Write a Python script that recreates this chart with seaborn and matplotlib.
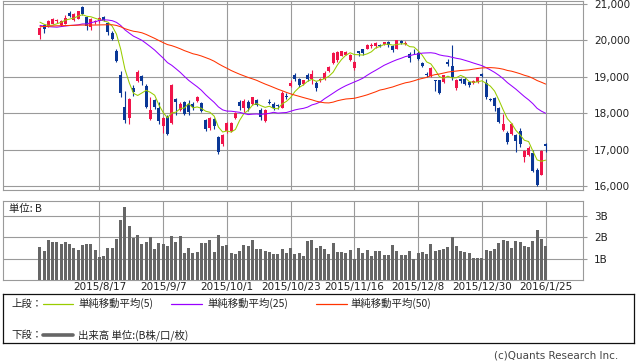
import numpy as np
import pandas as pd
import matplotlib
matplotlib.use("Agg")
import matplotlib.pyplot as plt
import seaborn as sns
from matplotlib.lines import Line2D

# ---------------- data ----------------
dates = (
    ["2015/7/28", "2015/7/29", "2015/7/30", "2015/7/31"]
    + ["2015/8/" + d for d in ["3", "4", "5", "6", "7", "10", "11", "12", "13", "14", "17", "18", "19", "20", "21", "24", "25", "26", "27", "28", "31"]]
    + ["2015/9/" + d for d in ["1", "2", "3", "4", "7", "8", "9", "10", "11", "14", "15", "16", "17", "18", "24", "25", "28", "29", "30"]]
    + ["2015/10/" + d for d in ["1", "2", "5", "6", "7", "8", "9", "13", "14", "15", "16", "19", "20", "21", "22", "23", "26", "27", "28", "29", "30"]]
    + ["2015/11/" + d for d in ["2", "4", "5", "6", "9", "10", "11", "12", "13", "16", "17", "18", "19", "20", "24", "25", "26", "27", "30"]]
    + ["2015/12/" + d for d in ["1", "2", "3", "4", "7", "8", "9", "10", "11", "14", "15", "16", "17", "18", "21", "22", "24", "25", "28", "29", "30"]]
    + ["2016/1/" + d for d in ["4", "5", "6", "7", "8", "12", "13", "14", "15", "18", "19", "20", "21", "22", "25"]]
)

opens = [20150, 20430, 20390, 20460, 20520, 20430, 20460, 20750, 20570, 20600,
         20920, 20650, 20370, 20500, 20530, 20640, 20470, 20200, 19720, 19050,
         18160, 17880, 18680, 18890, 19010, 18760, 17840, 18350, 18150, 17640,
         17900, 17730, 18390, 18080, 18320, 18240, 18260, 18330, 18280, 17800,
         17590, 17850, 17350, 17150, 17510, 17500, 17880, 18300, 18130, 18300,
         18240, 18350, 18100, 17780, 18320, 18250, 18230, 18150, 18480, 18740,
         19040, 18950, 18790, 19040, 18930, 18830, 18900, 18940, 19150, 19370,
         19450, 19580, 19610, 19460, 19230, 19700, 19750, 19770, 19850, 19840,
         19860, 19890, 19950, 19850, 19770, 19980, 19900, 19630, 19720, 19660,
         19380, 19090, 19010, 18900, 18900, 18850, 19410, 19310, 18680, 18940,
         18950, 18850, 18840, 18850, 19080, 18820, 18400, 18410, 18150, 17530,
         17450, 17420, 17390, 17500, 16800, 16850, 16900, 16450, 16310, 17145]
highs = [20360, 20450, 20550, 20610, 20600, 20560, 20700, 20800, 20760, 20820,
         20947, 20670, 20620, 20570, 20650, 20660, 20480, 20260, 19750, 19150,
         18600, 18430, 18780, 19190, 19050, 18790, 18450, 18390, 18300, 17900,
         17950, 18790, 18430, 18300, 18340, 18350, 18310, 18480, 18300, 17850,
         17900, 17880, 17370, 17420, 17750, 17760, 18040, 18350, 18390, 18360,
         18450, 18400, 18140, 18110, 18400, 18300, 18260, 18600, 18560, 18900,
         19100, 18960, 18920, 19100, 19200, 18880, 18960, 19150, 19300, 19680,
         19700, 19720, 19710, 19620, 19430, 19720, 19770, 19900, 19920, 19950,
         19900, 19960, 19970, 19860, 20020, 20000, 19980, 19680, 19760, 19700,
         19400, 19120, 19260, 18920, 18920, 19060, 19500, 19869, 18950, 18960,
         18990, 18870, 18900, 19000, 19110, 18950, 18420, 18450, 18170, 17975,
         17500, 17730, 17420, 17590, 17000, 17100, 17000, 16500, 16980, 17190]
lows = [20030, 20190, 20370, 20440, 20480, 20400, 20440, 20630, 20530, 20590,
        20700, 20280, 20280, 20440, 20490, 20520, 20150, 20000, 19400, 18450,
        17730, 17710, 18470, 18870, 18780, 18130, 17800, 18120, 17700, 17450,
        17400, 17700, 17950, 18050, 17950, 17960, 18100, 18310, 18020, 17520,
        17540, 17560, 16870, 17100, 17450, 17480, 17830, 18100, 18020, 18060,
        18220, 18200, 17800, 17770, 18240, 18080, 18120, 18130, 18380, 18710,
        18880, 18720, 18770, 18880, 18800, 18600, 18850, 18920, 19120, 19350,
        19420, 19560, 19590, 19440, 19200, 19580, 19600, 19750, 19800, 19800,
        19820, 19870, 19830, 19680, 19750, 19900, 19880, 19400, 19620, 19450,
        19260, 18990, 18990, 18600, 18520, 18820, 19300, 18900, 18650, 18820,
        18770, 18730, 18800, 18820, 19000, 18390, 18330, 18050, 17740, 17510,
        17150, 17390, 16930, 17070, 16650, 16830, 16390, 16000, 16290, 16940]
closes = [20329, 20303, 20523, 20585, 20548, 20520, 20614, 20664, 20725, 20809,
          20721, 20393, 20596, 20519, 20620, 20554, 20223, 20034, 19436, 18541,
          17807, 18377, 18574, 19136, 18890, 18166, 18095, 18182, 17792, 17860,
          17427, 18771, 18300, 18264, 17966, 18026, 18172, 18432, 18070, 17572,
          17881, 17645, 16931, 17388, 17722, 17725, 18005, 18186, 18323, 18141,
          18439, 18235, 17891, 18097, 18292, 18131, 18207, 18554, 18436, 18825,
          18947, 18777, 18903, 18936, 19083, 18683, 18927, 19116, 19266, 19643,
          19671, 19698, 19691, 19597, 19394, 19650, 19649, 19860, 19880, 19925,
          19848, 19944, 19884, 19747, 20012, 19938, 19940, 19504, 19698, 19493,
          19301, 19047, 19230, 18883, 18566, 19050, 19354, 18987, 18916, 18887,
          18790, 18769, 18873, 18982, 19034, 18451, 18374, 18191, 17767, 17698,
          17219, 17716, 17241, 17147, 16956, 17048, 16416, 16017, 16959, 17111]

# closes of the 49 sessions before the first candle (needed by the moving averages)
history_closes = [20026, 20196, 20202, 20264, 20413, 20437, 20472, 20551, 20563,
                  20569, 20543, 20473, 20488, 20460, 20457, 20096, 20046, 20382, 20407,
                  20387, 20257, 20219, 19990, 20174, 20428, 20809, 20868, 20771, 20706,
                  20109, 20236, 20329, 20522, 20539, 20112, 20376, 19737, 19855, 19780,
                  20089, 20385, 20463, 20600, 20650, 20841, 20593, 20683, 20544, 20350]

volume_b = [1.54, 1.35, 1.85, 1.76, 1.76, 1.67, 1.76, 1.67, 1.49, 1.38,
            1.62, 1.70, 1.67, 1.38, 1.06, 1.10, 1.49, 1.49, 1.90, 2.79,
            3.40, 2.51, 1.95, 2.09, 1.67, 1.76, 2.00, 1.45, 1.71, 1.67,
            1.57, 2.04, 1.76, 2.04, 1.24, 1.49, 1.24, 1.29, 1.71, 1.71,
            1.85, 1.29, 2.09, 1.57, 1.62, 1.24, 1.20, 1.34, 1.62, 1.57,
            1.85, 1.45, 1.45, 1.34, 1.29, 1.20, 1.20, 1.45, 1.24, 1.49,
            1.20, 1.24, 1.10, 1.81, 1.85, 1.49, 1.57, 1.46, 1.20, 1.71,
            1.29, 1.29, 1.24, 1.38, 0.99, 1.49, 1.24, 1.38, 1.10, 1.34,
            1.34, 1.15, 1.15, 1.62, 1.34, 1.15, 1.15, 1.34, 0.99, 1.24,
            1.29, 1.20, 1.67, 1.34, 1.38, 1.43, 1.53, 2.00, 1.57, 1.34,
            1.29, 1.24, 1.01, 1.01, 1.01, 1.38, 1.34, 1.43, 1.71, 1.85,
            1.81, 1.48, 1.81, 1.76, 1.57, 1.53, 1.81, 2.32, 1.90, 1.57]

tick_dates = ["2015/8/17", "2015/9/7", "2015/10/1", "2015/10/23",
              "2015/11/16", "2015/12/8", "2015/12/30", "2016/1/25"]
price_ticks = [16000, 17000, 18000, 19000, 20000, 21000]
volume_ticks = [1, 2, 3]
volume_tick_labels = ["1B", "2B", "3B"]
ma_periods = [5, 25, 50]
legend_labels = ["単純移動平均(5)", "単純移動平均(25)", "単純移動平均(50)"]

# ---------------- style ----------------
sns.set_style("white")
plt.rcParams["font.family"] = ["DejaVu Sans", "Noto Sans CJK JP"]
CJK = ["Noto Sans CJK JP", "DejaVu Sans"]

UP = "#f0144a"
DOWN = "#0a3796"
MA_COLORS = ["#99cc00", "#9900ff", "#ff3300"]
GRID = "#9a9a9a"
VOL = "#666666"
TXT = "#222222"

W, H = 638, 362
fig = plt.figure(figsize=(W / 100, H / 100), dpi=100)


def px_axes(x0, y0, x1, y1):
    return fig.add_axes([x0 / W, 1 - y1 / H, (x1 - x0) / W, (y1 - y0) / H])


ax1 = px_axes(3, 1, 583, 190)
ax2 = px_axes(3, 201, 583, 280)

df = pd.DataFrame({"date": dates, "open": opens, "high": highs,
                   "low": lows, "close": closes, "volume": volume_b})
df["idx"] = np.arange(len(df))
all_close = pd.Series(history_closes + closes)
n_hist = len(history_closes)
for p in ma_periods:
    df[f"ma{p}"] = all_close.rolling(p).mean().iloc[n_hist:].to_numpy()

tick_pos = [dates.index(t) for t in tick_dates]
xlim = (-8.7, 127.8)

# ---------------- upper panel: candles + MAs ----------------
up = df["close"] >= df["open"]
cols = np.where(up, UP, DOWN)
ax1.vlines(df["idx"], df["low"], df["high"], colors=cols, lw=0.8, zorder=3)
body_bottom = np.minimum(df["open"], df["close"])
body_h = np.maximum(np.abs(df["close"] - df["open"]), 22)
ax1.bar(df["idx"], body_h, bottom=body_bottom, width=0.72, color=cols,
        linewidth=0, zorder=4)
for p, c in zip(ma_periods, MA_COLORS):
    sns.lineplot(x=df["idx"], y=df[f"ma{p}"], ax=ax1, color=c, lw=0.75,
                 zorder=5, legend=False)

ax1.set_xlim(*xlim)
ax1.set_ylim(15890, 21082)
ax1.set_xticks(tick_pos)
ax1.set_xticklabels([])
ax1.set_yticks(price_ticks)
ax1.set_yticklabels([f"{v:,}" for v in price_ticks])
ax1.yaxis.tick_right()
ax1.tick_params(axis="y", length=3, color=GRID, labelsize=7.5, pad=5,
                labelcolor=TXT, right=True, left=False)
ax1.tick_params(axis="x", length=0)
ax1.grid(True, color=GRID, lw=0.8, zorder=0)
ax1.set_axisbelow(True)
ax1.set_xlabel("")
ax1.set_ylabel("")
for s in ax1.spines.values():
    s.set_color(GRID)
    s.set_linewidth(0.8)

# ---------------- lower panel: volume ----------------
sns.barplot(x=df["idx"], y=df["volume"], ax=ax2, native_scale=True,
            color=VOL, saturation=1, width=0.72, linewidth=0, errorbar=None,
            zorder=3)
ax2.set_xlim(*xlim)
ax2.set_ylim(0, 3.685)
ax2.set_xticks(tick_pos)
ax2.set_xticklabels(tick_dates)
ax2.set_yticks(volume_ticks)
ax2.set_yticklabels(volume_tick_labels)
ax2.yaxis.tick_right()
ax2.tick_params(axis="y", length=3, color=GRID, labelsize=7.5, pad=5,
                labelcolor=TXT, right=True, left=False)
ax2.tick_params(axis="x", length=0, labelsize=7.5, pad=1.5, labelcolor=TXT)
ax2.grid(True, color=GRID, lw=0.8, zorder=0)
ax2.set_axisbelow(True)
ax2.set_xlabel("")
ax2.set_ylabel("")
for s in ax2.spines.values():
    s.set_color(GRID)
    s.set_linewidth(0.8)
fig.text(9 / W, 1 - 209 / H, "単位: B", fontsize=7.5, color=TXT,
         family=CJK, va="center")

# ---------------- legend box ----------------
ax3 = px_axes(3, 294, 634, 343)
ax3.set_xlim(0, 631)
ax3.set_ylim(49, 0)
ax3.set_xticks([])
ax3.set_yticks([])
for s in ax3.spines.values():
    s.set_color("#111111")
    s.set_linewidth(0.9)

row1, row2 = 9.5, 41
ax3.text(8, row1, "上段：", family=CJK, fontsize=7.5, color=TXT, va="center")
line_x = [(40, 70), (168, 199), (313, 344)]
text_x = [75, 204, 347]
for (a, b), tx, c, lab in zip(line_x, text_x, MA_COLORS, legend_labels):
    ax3.add_line(Line2D([a, b], [row1, row1], color=c, lw=0.9))
    ax3.text(tx, row1, lab, family=CJK, fontsize=7.5, color=TXT, va="center")
ax3.text(8, row2, "下段：", family=CJK, fontsize=7.5, color=TXT, va="center")
ax3.add_line(Line2D([40, 70], [row2, row2], color=VOL, lw=2.6))
ax3.text(75, row2, "出来高 単位:(B株/口/枚)", family=CJK, fontsize=7.5,
         color=TXT, va="center")

fig.text(618 / W, 1 - 355 / H, "(c)Quants Research Inc.", ha="right",
         va="center", fontsize=7.5, color="#444444")

fig.savefig("out.png", dpi=100)
